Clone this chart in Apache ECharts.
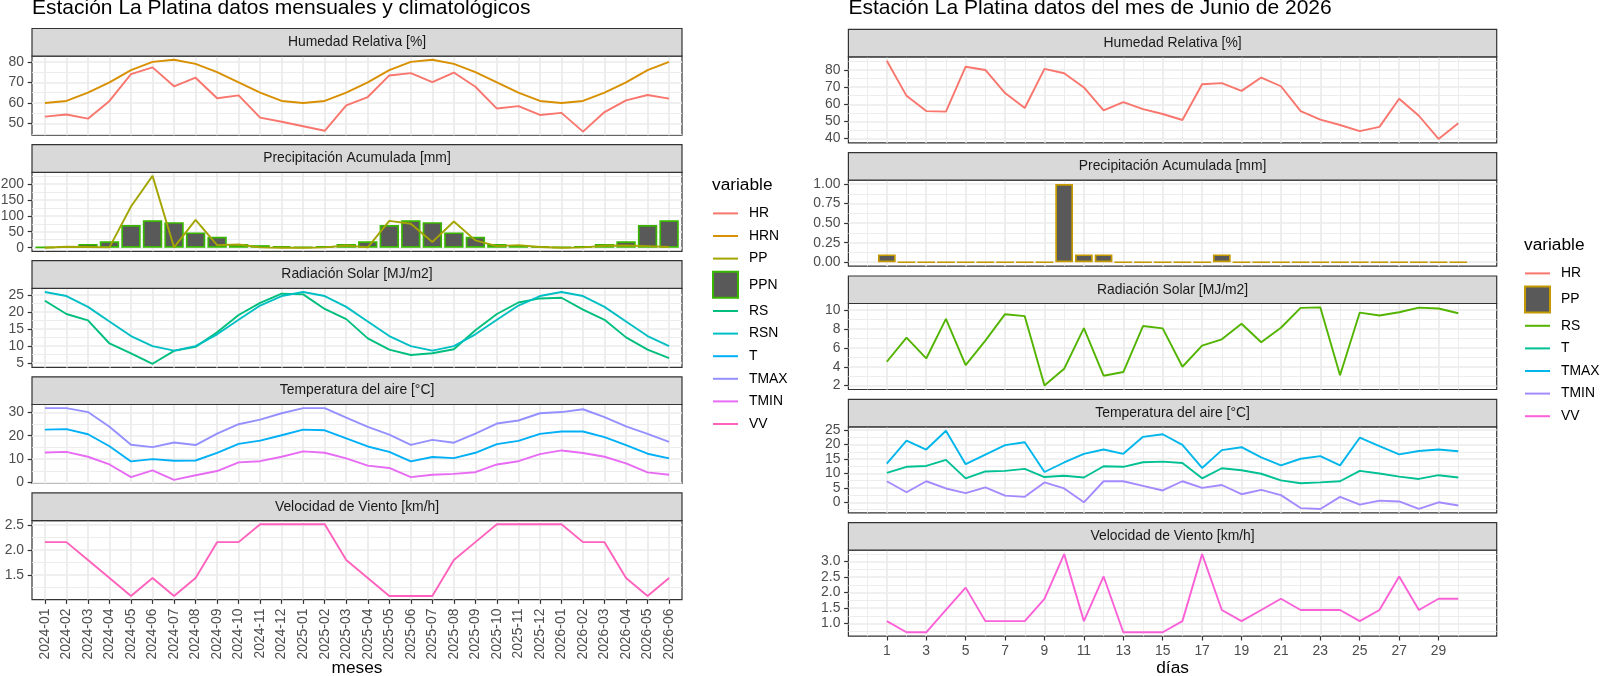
<!DOCTYPE html>
<html>
<head>
<meta charset="utf-8">
<title>Estación La Platina</title>
<script src="https://cdn.jsdelivr.net/npm/echarts@6.0.0/dist/echarts.min.js"></script>
<style>
  html, body { margin: 0; padding: 0; background: #fff; }
  #wrap { position: relative; width: 1600px; height: 676px; overflow: hidden; }
  #left, #right { position: absolute; top: 0; width: 800px; height: 676px; }
  #left { left: 0; }
  #right { left: 800px; }
</style>
</head>
<body>
<div id="wrap"><div id="left"></div><div id="right"></div></div>
<script>
// ---- monthly / climatological data (left) ----
const MONTHS = ["2024-01","2024-02","2024-03","2024-04","2024-05","2024-06","2024-07","2024-08","2024-09","2024-10","2024-11","2024-12",
                "2025-01","2025-02","2025-03","2025-04","2025-05","2025-06","2025-07","2025-08","2025-09","2025-10","2025-11","2025-12",
                "2026-01","2026-02","2026-03","2026-04","2026-05","2026-06"];
const HR_M   = [53.4,54.4,52.4,61.0,74.0,77.3,68.1,72.3,62.3,63.7,52.9,50.9, 48.7,46.5,58.9,62.9,73.4,74.5,70.2,74.8,67.9,57.3,58.5,54.2, 55.2,46.1,55.6,61.3,63.9,62.1];
const HRN_M  = [60,61,65,70,76,80,81,79,75,70,65,61, 60,61,65,70,76,80,81,79,75,70,65,61, 60,61,65,70,76,80];
const PP_M   = [0,3,2,1,129,225,1,87,8,10,1,0, 0,1,7,1,84,75,18,82,23,5,8,2, 0,1,6,7,5,2];
const PPN_M  = [1.5,5,12,20,71,86,80,48,34,12,8,5, 1.5,5,12,20,71,86,80,48,34,12,8,5, 1.5,5,12,20,71,86];
const RS_M   = [23.3,19.4,17.5,10.7,7.8,4.7,8.5,9.7,14.0,19.1,22.7,25.4, 25.2,20.9,17.9,12.2,8.9,7.3,7.8,9.0,14.6,19.4,22.8,24.0, 24.2,20.7,17.7,12.5,8.9,6.4];
const RSN_M  = [25.9,24.7,21.5,17.2,12.9,9.9,8.6,9.9,13.4,17.7,21.9,24.7, 25.9,24.7,21.5,17.2,12.9,9.9,8.6,9.9,13.4,17.7,21.9,24.7, 25.9,24.7,21.5,17.2,12.9,9.9];
const T_M    = [22.6,22.8,20.6,15.5,9.0,10.0,9.3,9.4,12.7,16.5,17.9,20.2, 22.6,22.3,18.9,15.4,13.1,9.0,10.9,10.4,12.7,16.4,17.8,20.8, 21.8,21.8,19.4,16.0,12.3,10.3];
const TMAX_M = [31.8,31.8,30.1,23.8,16.1,15.1,17.1,16.0,20.9,24.9,26.9,29.6, 31.8,31.8,27.7,23.8,20.5,16.1,18.2,17.0,20.9,25.2,26.5,29.6, 30.1,31.3,27.9,24.0,20.8,17.4];
const TMIN_M = [12.8,13.1,11.0,7.7,2.3,5.2,1.1,3.1,4.9,8.6,9.1,11.0, 13.3,12.7,10.3,7.2,6.2,2.3,3.3,3.7,4.4,7.7,9.1,12.1, 13.7,12.6,11.0,8.2,4.3,3.3];
const VV_M   = [2.16,2.16,1.8,1.44,1.08,1.44,1.08,1.44,2.16,2.16,2.52,2.52, 2.52,2.52,1.8,1.44,1.08,1.08,1.08,1.8,2.16,2.52,2.52,2.52, 2.52,2.16,2.16,1.44,1.08,1.44];

// ---- daily data for June 2026 (right) ----
const DAYS   = [1,2,3,4,5,6,7,8,9,10,11,12,13,14,15,16,17,18,19,20,21,22,23,24,25,26,27,28,29,30];
const DAY_TICKS = [1,3,5,7,9,11,13,15,17,19,21,23,25,27,29];
const DAY_MINOR = [0,2,4,6,8,10,12,14,16,18,20,22,24,26,28,30];
const HR_D   = [85.4,64.9,56.0,55.7,81.9,80.0,66.5,57.8,80.6,78.1,69.8,56.4,61.3,57.2,54.3,50.8,71.7,72.3,67.8,75.6,70.5,56.0,51.0,47.9,44.3,46.8,63.2,53.3,39.8,48.9];
const PP_D   = [0.1,0,0,0,0,0,0,0,0,1.0,0.1,0.1,0,0,0,0,0,0.1,0,0,0,0,0,0,0,0,0,0,0,0];
const RS_D   = [4.53,7.09,4.88,9.09,4.18,6.77,9.58,9.37,2.0,3.79,8.1,3.05,3.44,8.32,8.07,4.0,6.25,6.91,8.56,6.6,8.14,10.25,10.3,3.09,9.75,9.44,9.79,10.28,10.18,9.68];
const T_D    = [10.2,12.3,12.6,14.7,8.3,10.7,10.9,11.6,8.75,9.2,8.6,12.5,12.3,13.9,14.1,13.6,8.3,11.8,11.1,9.9,7.6,6.6,6.9,7.3,10.9,10.0,8.9,8.1,9.4,8.6];
const TMAX_D = [13.4,21.4,18.3,24.8,13.2,16.5,19.8,20.8,10.5,13.8,16.8,18.3,16.8,22.7,23.6,19.9,11.9,18.1,19.1,15.6,12.8,15.1,16.0,12.8,22.4,19.5,16.6,17.8,18.3,17.7];
const TMIN_D = [7.3,3.5,7.3,4.8,3.2,5.2,2.3,1.9,6.9,4.8,0.0,7.3,7.3,5.7,4.1,7.3,5.0,6.0,2.8,4.3,2.5,-2.0,-2.3,1.9,-0.8,0.6,0.3,-2.3,0.0,-1.1];
const VV_D   = [1.08,0.72,0.72,1.44,2.16,1.08,1.08,1.08,1.8,3.24,1.08,2.52,0.72,0.72,0.72,1.08,3.24,1.44,1.08,1.44,1.8,1.44,1.44,1.44,1.08,1.44,2.52,1.44,1.8,1.8];

// ggplot hue palettes (10 levels left, 7 levels right)
const PAL_L = { HR:"#F8766D", HRN:"#D89000", PP:"#A3A500", PPN:"#39B600", RS:"#00BF7D",
                RSN:"#00BFC4", T:"#00B0F6", TMAX:"#9590FF", TMIN:"#E76BF3", VV:"#FF62BC" };
const PAL_R = { HR:"#F8766D", PP:"#C49A00", RS:"#53B400", T:"#00C094",
                TMAX:"#00B6EB", TMIN:"#A58AFF", VV:"#FB61D7" };

const FONT = "'Liberation Sans', Arial, Helvetica, sans-serif";
const INK = "#4D4D4D", FRAME = "#333333", GRIDC = "#EBEBEB", STRIP = "#D9D9D9", BARFILL = "#595959";

// ggplot-like 5% expansion of the data range
function expand(facet) {
  let lo = Infinity, hi = -Infinity;
  for (const s of facet.series) for (const v of s[1]) { lo = Math.min(lo, v); hi = Math.max(hi, v); }
  if (facet.fromZero) lo = Math.min(lo, 0);
  const r = hi - lo;
  return [lo - r * 0.05, hi + r * 0.05];
}

function textEl(text, x, y, size, fill, align, z) {
  return { type: "text", x, y, silent: true, z: z || 11,
    style: { text, fontSize: size, fontFamily: FONT, fill,
             align, verticalAlign: "middle", textAlign: align, textVerticalAlign: "middle" } };
}

function buildOption(side) {
  const L = side.layout;
  const grid = [], xAxis = [], yAxis = [], series = [], graphic = [];
  const bars = new Set();

  graphic.push(textEl(side.title, L.x, 8.5, 21, "#000", "left"));

  side.facets.forEach((f, k) => {
    const stripTop = L.top0 + k * L.period;
    const top = stripTop + L.stripH;
    const last = k === side.facets.length - 1;
    const [ymin, ymax] = expand(f);

    graphic.push({ type: "rect", silent: true, z: 10,
      shape: { x: L.x, y: stripTop, width: L.w, height: L.stripH },
      style: { fill: STRIP, stroke: FRAME, lineWidth: 1.2 } });
    graphic.push(textEl(f.strip, L.x + L.w / 2, stripTop + L.stripH / 2, 13.9, "#1A1A1A", "center"));

    grid.push({ left: L.x, top: top, width: L.w, height: L.panelH, show: true,
      borderColor: FRAME, borderWidth: 1.2, backgroundColor: "#fff",
      containLabel: false, outerBoundsMode: "none" });

    // major x axis (carries the data)
    xAxis.push({ type: "value", gridIndex: k, min: side.xMin, max: side.xMax, position: "bottom",
      axisLine: { show: false, onZero: false },
      axisTick: { show: last, customValues: side.xTicks, length: 4.3, lineStyle: { color: FRAME, width: 1.2 } },
      axisLabel: { show: last, customValues: side.xTicks, formatter: side.xFmt, rotate: side.xRotate,
                   fontSize: 13.9, color: INK, fontFamily: FONT, margin: side.xMargin },
      splitLine: { show: true, lineStyle: { color: GRIDC, width: 1.7 } } });
    // minor x grid
    xAxis.push({ type: "value", gridIndex: k, min: side.xMin, max: side.xMax, position: "top",
      axisLine: { show: false, onZero: false }, axisLabel: { show: false },
      axisTick: { show: false, customValues: side.xMinor.length ? side.xMinor : [side.xMin] },
      splitLine: { show: side.xMinor.length > 0, lineStyle: { color: GRIDC, width: 0.9 } } });

    const fmt = (v) => v.toFixed(f.dec);
    yAxis.push({ type: "value", gridIndex: k, min: ymin, max: ymax, position: "left",
      axisLine: { show: false, onZero: false },
      axisTick: { show: true, customValues: f.major, length: 4.3, lineStyle: { color: FRAME, width: 1.2 } },
      axisLabel: { customValues: f.major, formatter: fmt, fontSize: 13.9, color: INK, fontFamily: FONT, margin: 8 },
      splitLine: { show: true, lineStyle: { color: GRIDC, width: 1.7 } } });
    yAxis.push({ type: "value", gridIndex: k, min: ymin, max: ymax, position: "right",
      axisLine: { show: false, onZero: false }, axisLabel: { show: false },
      axisTick: { show: false, customValues: f.minor },
      splitLine: { show: true, lineStyle: { color: GRIDC, width: 0.9 } } });

    for (const [name, vals, kind] of f.series) {
      const data = vals.map((v, i) => [side.xs[i], v]);
      const color = side.pal[name];
      if (kind === "bar") {
        bars.add(name);
        series.push({ type: "bar", name, data, xAxisIndex: 2 * k, yAxisIndex: 2 * k, barWidth: "90%",
          z: 2, silent: true, itemStyle: { color: BARFILL, borderColor: color, borderWidth: 1.7, borderRadius: 0 } });
      } else {
        series.push({ type: "line", name, data, xAxisIndex: 2 * k, yAxisIndex: 2 * k, symbol: "none",
          z: 3, silent: true, color, lineStyle: { width: 1.9, color }, itemStyle: { color } });
      }
    }
  });

  graphic.push(textEl(side.xName, L.x + L.w / 2, 668, 17.3, "#000", "center"));
  graphic.push(textEl("variable", side.legend.left, side.legend.titleY, 17.3, "#000", "left"));

  // line keys show only the line (symbol hidden), the bar key shows the square filled box
  const legendData = side.legend.names.map((n) =>
    bars.has(n) ? { name: n, icon: "rect" } : { name: n, itemStyle: { opacity: 0 } });

  return {
    animation: false,
    backgroundColor: "#fff",
    textStyle: { fontFamily: FONT },
    grid, xAxis, yAxis, series, graphic,
    legend: { orient: "vertical", left: side.legend.left, top: side.legend.top, padding: 0,
      itemWidth: 25, itemHeight: 26, itemGap: 1.8, selectedMode: false, data: legendData,
      textStyle: { fontSize: 13.9, color: "#000", fontFamily: FONT, padding: [0, 0, 0, 6] } },
  };
}

const LEFT = {
  title: "Estación La Platina datos mensuales y climatológicos",
  layout: { x: 32, w: 650, top0: 28.5, period: 116.1, stripH: 27.7, panelH: 79 },
  xs: MONTHS.map((m, i) => i),
  xMin: -0.6, xMax: 29.6,
  xTicks: MONTHS.map((m, i) => i), xMinor: [],
  xFmt: (v) => MONTHS[Math.round(v)], xRotate: 90, xMargin: 9,
  xName: "meses",
  pal: PAL_L,
  legend: { left: 712, top: 203, titleY: 185.5,
            names: ["HR","HRN","PP","PPN","RS","RSN","T","TMAX","TMIN","VV"] },
  facets: [
    { strip: "Humedad Relativa [%]", series: [["HR", HR_M], ["HRN", HRN_M]],
      major: [50,60,70,80], minor: [45,55,65,75], dec: 0 },
    { strip: "Precipitación Acumulada [mm]", series: [["PPN", PPN_M, "bar"], ["PP", PP_M]],
      major: [0,50,100,150,200], minor: [25,75,125,175,225], dec: 0, fromZero: true },
    { strip: "Radiación Solar [MJ/m2]", series: [["RS", RS_M], ["RSN", RSN_M]],
      major: [5,10,15,20,25], minor: [7.5,12.5,17.5,22.5], dec: 0 },
    { strip: "Temperatura del aire [°C]", series: [["T", T_M], ["TMAX", TMAX_M], ["TMIN", TMIN_M]],
      major: [0,10,20,30], minor: [5,15,25], dec: 0 },
    { strip: "Velocidad de Viento [km/h]", series: [["VV", VV_M]],
      major: [1.5,2,2.5], minor: [1.25,1.75,2.25], dec: 1 },
  ],
};

const RIGHT = {
  title: "Estación La Platina datos del mes de Junio de 2026",
  layout: { x: 48.4, w: 648.3, top0: 29.3, period: 123.35, stripH: 27.5, panelH: 86 },
  xs: DAYS,
  xMin: -0.95, xMax: 31.95,
  xTicks: DAY_TICKS, xMinor: DAY_MINOR,
  xFmt: (v) => String(v), xRotate: 0, xMargin: 8,
  xName: "días",
  pal: PAL_R,
  legend: { left: 724, top: 263, titleY: 245.5,
            names: ["HR","PP","RS","T","TMAX","TMIN","VV"] },
  facets: [
    { strip: "Humedad Relativa [%]", series: [["HR", HR_D]],
      major: [40,50,60,70,80], minor: [45,55,65,75,85], dec: 0 },
    { strip: "Precipitación Acumulada [mm]", series: [["PP", PP_D, "bar"]],
      major: [0,0.25,0.5,0.75,1], minor: [0.125,0.375,0.625,0.875], dec: 2, fromZero: true },
    { strip: "Radiación Solar [MJ/m2]", series: [["RS", RS_D]],
      major: [2,4,6,8,10], minor: [3,5,7,9], dec: 0 },
    { strip: "Temperatura del aire [°C]", series: [["T", T_D], ["TMAX", TMAX_D], ["TMIN", TMIN_D]],
      major: [0,5,10,15,20,25], minor: [-2.5,2.5,7.5,12.5,17.5,22.5], dec: 0 },
    { strip: "Velocidad de Viento [km/h]", series: [["VV", VV_D]],
      major: [1,1.5,2,2.5,3], minor: [0.75,1.25,1.75,2.25,2.75,3.25], dec: 1 },
  ],
};

const left = echarts.init(document.getElementById("left"), null, { renderer: "canvas" });
left.setOption(buildOption(LEFT));
const right = echarts.init(document.getElementById("right"), null, { renderer: "canvas" });
right.setOption(buildOption(RIGHT));
</script>
</body>
</html>
